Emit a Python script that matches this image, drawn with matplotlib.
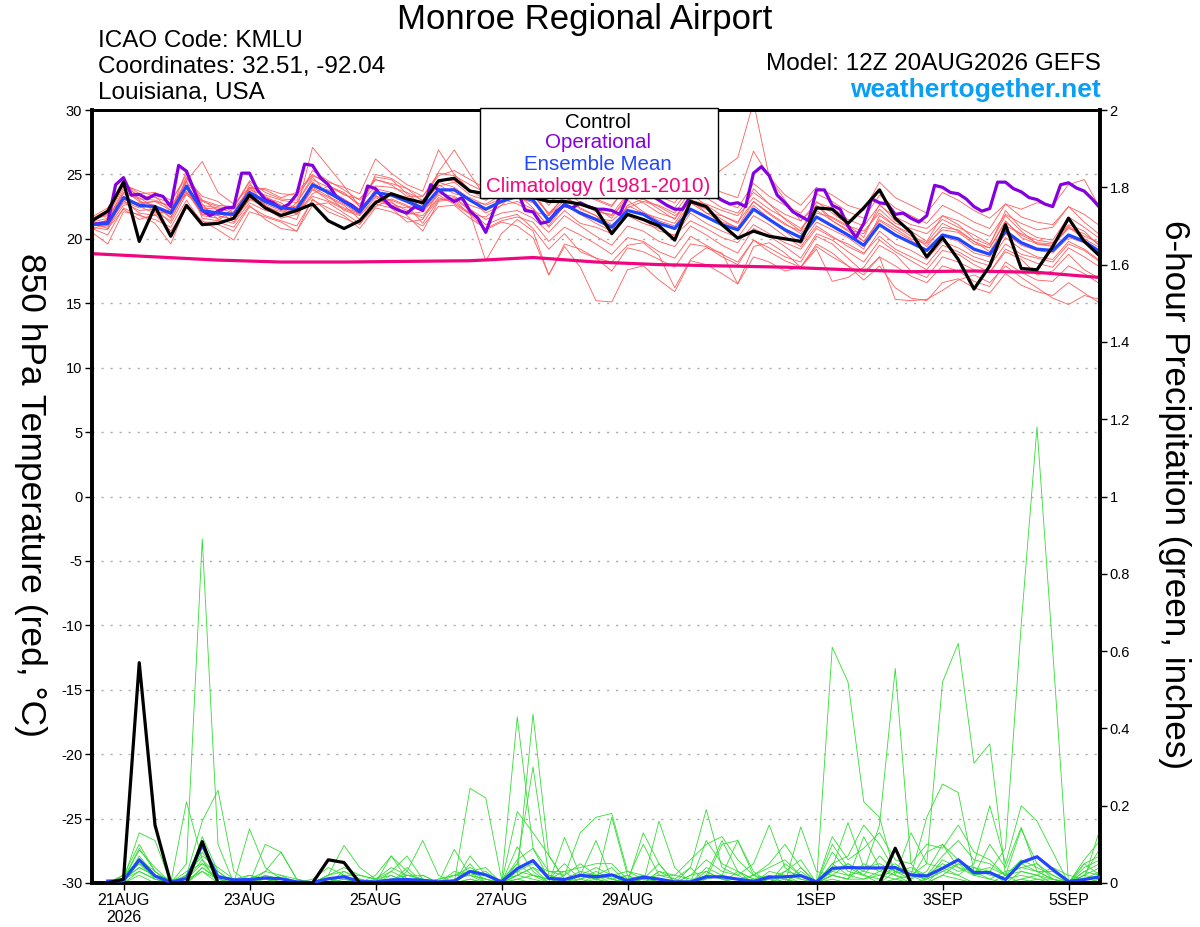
import numpy as np
import matplotlib
matplotlib.use("Agg")
import matplotlib.pyplot as plt
from matplotlib.patches import Rectangle

plt.rcParams['font.family'] = ['Liberation Sans', 'DejaVu Sans']
plt.rcParams['axes.unicode_minus'] = False

# === time axis: 6-hourly steps from 12Z 20AUG2026 (step 0) to 12Z 05SEP (step 64) ===
tick_steps = [2, 10, 18, 26, 34, 46, 54, 62]
tick_labels = ['21AUG\n2026', '23AUG', '25AUG', '27AUG', '29AUG', '1SEP', '3SEP', '5SEP']

# === 850 hPa temperature (deg C), 6-hourly, steps 0..64 ===
control_t = [21.4, 22.15, 24.4, 19.8, 22.5, 20.2, 22.6, 21.1, 21.2, 21.6, 23.4, 22.4, 21.8, 22.2, 22.7, 21.4,
             20.8, 21.4, 22.8, 23.5, 23.1, 22.8, 24.5, 24.7, 23.7, 23.5, 23.4, 23.6, 23.2, 22.9, 22.9, 22.7,
             22.3, 20.4, 21.9, 21.5, 21.0, 19.9, 22.9, 22.5, 21.1, 20.05, 20.6, 20.2, 20.0, 19.8, 22.4, 22.3,
             21.2, 22.4, 23.8, 21.6, 20.5, 18.6, 20.1, 18.4, 16.1, 17.9, 21.1, 17.7, 17.6, 19.4, 21.6, 19.8,
             18.65]
mean_t = [21.1, 21.2, 23.2, 22.6, 22.5, 22.0, 24.1, 22.2, 22.0, 21.9, 23.6, 22.9, 22.4, 22.3, 24.2, 23.6,
          22.9, 22.1, 23.6, 23.4, 22.9, 22.4, 23.8, 23.8, 23.0, 22.3, 22.9, 23.3, 23.0, 21.4, 22.7, 22.0,
          21.5, 20.9, 22.2, 21.9, 21.2, 20.8, 22.3, 21.7, 21.1, 20.7, 22.3, 21.5, 20.7, 20.1, 21.7, 21.0,
          20.3, 19.5, 21.1, 20.3, 19.7, 19.1, 20.3, 20.0, 19.2, 18.8, 20.6, 19.7, 19.2, 19.1, 20.3, 19.8,
          19.0]

# operational run is 3-hourly (129 values)
oper_t = [21.1, 21.2, 21.25, 24.2, 24.75, 23.4, 23.45, 23.1, 23.45, 23.3, 22.5, 25.7, 25.25, 23.7, 22.2, 21.8,
          22.15, 22.4, 22.45, 25.1, 25.1, 23.8, 23.05, 22.8, 22.35, 22.7, 23.45, 25.8, 25.7, 24.75, 24.2, 23.3,
          22.9, 22.6, 22.1, 24.1, 23.9, 23.1, 22.5, 22.2, 22.0, 22.5, 22.2, 24.2, 23.8, 23.3, 22.9, 23.2,
          22.15, 21.6, 20.5, 22.15, 23.6, 23.9, 23.8, 22.2, 22.1, 21.2, 21.35, 22.15, 22.6, 22.4, 22.8, 22.5,
          22.3, 22.3, 22.2, 21.9, 23.2, 23.7, 23.8, 23.4, 23.0, 22.6, 22.3, 22.3, 23.3, 23.7, 23.6, 23.4,
          23.0, 22.7, 22.8, 22.5, 25.1, 25.6, 24.9, 23.4, 22.8, 22.1, 21.75, 21.4, 23.8, 23.8, 22.6, 22.3,
          21.0, 20.1, 21.2, 23.1, 22.8, 22.7, 21.9, 22.0, 21.6, 21.3, 21.8, 24.15, 24.0, 23.6, 23.5, 23.1,
          22.5, 22.15, 22.35, 24.4, 24.4, 23.9, 23.65, 23.2, 23.05, 22.7, 22.5, 24.2, 24.35, 23.95, 23.7, 23.1,
          22.4]

# climatology, daily at 12Z
clim_t = [18.85, 18.6, 18.35, 18.2, 18.2, 18.25, 18.3, 18.55, 18.2, 18.0, 17.9, 17.8, 17.6, 17.45, 17.5,
          17.4, 17.0]

# ensemble members
mem01 = [21.5, 21.8, 24.0, 23.4, 23.2, 22.8, 25.0, 23.0, 22.6, 22.5, 24.5, 23.6, 23.1, 23.0, 25.3, 24.5,
         23.8, 23.0, 24.6, 24.3, 23.9, 23.3, 25.1, 24.9, 24.2, 23.6, 24.4, 25.0, 24.6, 23.2, 24.4, 23.6,
         23.1, 22.6, 24.1, 23.6, 23.0, 22.4, 24.0, 23.5, 22.9, 22.4, 24.3, 23.3, 22.6, 22.0, 23.5, 22.9,
         22.1, 21.6, 23.4, 22.4, 21.8, 21.2, 22.6, 22.0, 21.3, 20.8, 22.7, 21.7, 21.3, 21.1, 22.5, 21.9, 21.0]
mem02 = [20.8, 20.3, 22.4, 21.8, 21.5, 20.9, 23.0, 21.2, 21.1, 20.6, 22.5, 21.8, 21.4, 21.0, 23.0, 22.4,
         21.8, 20.8, 22.4, 22.1, 21.6, 21.0, 22.5, 22.6, 21.6, 20.8, 21.4, 21.7, 21.3, 19.8, 20.9, 20.3,
         19.6, 18.8, 20.1, 19.8, 19.0, 18.5, 20.2, 19.5, 18.8, 18.2, 19.9, 19.0, 18.3, 17.8, 19.4, 18.6,
         17.9, 17.2, 18.6, 17.9, 17.1, 16.6, 17.9, 17.5, 16.7, 16.3, 18.2, 17.4, 16.8, 16.7, 17.9, 17.3, 16.5]
mem03 = [21.0, 21.5, 23.8, 22.9, 22.6, 21.6, 24.8, 22.5, 21.8, 21.5, 24.2, 23.3, 22.6, 22.2, 27.1, 25.6,
         24.1, 22.5, 24.8, 24.6, 23.5, 22.6, 25.2, 26.9, 25.0, 23.2, 24.0, 24.6, 23.8, 21.8, 23.4, 22.4,
         21.8, 20.6, 22.6, 23.1, 22.3, 21.5, 23.5, 22.6, 21.8, 21.2, 23.9, 22.7, 21.5, 20.6, 22.9, 22.0,
         21.1, 20.1, 22.7, 21.4, 20.6, 19.8, 21.8, 21.1, 20.0, 19.5, 22.2, 20.8, 20.1, 19.9, 21.7, 20.9, 20.0]
mem04 = [21.3, 21.0, 22.9, 22.4, 22.6, 21.7, 23.6, 21.9, 21.8, 21.5, 23.2, 22.5, 22.1, 22.0, 23.8, 23.2,
         22.6, 21.5, 23.0, 22.8, 22.2, 21.6, 23.1, 23.0, 21.9, 20.7, 21.3, 21.0, 20.1, 17.2, 19.4, 17.8,
         15.2, 15.1, 17.6, 17.9, 16.8, 15.9, 18.3, 18.0, 17.3, 16.5, 18.6, 18.2, 17.5, 17.8, 19.6, 18.9,
         17.9, 16.8, 17.9, 16.2, 15.4, 15.2, 16.6, 16.9, 16.2, 15.8, 17.3, 16.4, 15.9, 15.6, 16.6, 15.8, 15.0]
mem05 = [21.6, 22.2, 24.6, 23.0, 22.1, 21.4, 23.9, 21.8, 21.6, 22.1, 24.0, 22.6, 21.9, 22.8, 24.8, 23.4,
         22.2, 21.8, 23.2, 22.6, 22.4, 23.0, 24.4, 24.0, 23.1, 22.0, 22.6, 23.9, 23.4, 22.0, 23.2, 22.6,
         22.2, 21.8, 23.0, 22.1, 21.4, 21.0, 22.8, 22.3, 21.5, 20.8, 22.6, 21.6, 20.6, 19.6, 21.3, 20.7,
         20.1, 19.2, 21.8, 21.0, 20.4, 19.4, 20.9, 20.7, 19.8, 19.0, 21.0, 20.4, 19.9, 19.7, 21.1, 20.6, 19.4]
mem06 = [20.5, 19.6, 22.1, 21.9, 21.2, 19.6, 22.6, 21.4, 20.7, 19.9, 22.1, 21.7, 21.3, 20.6, 22.6, 22.8,
         22.0, 21.2, 22.5, 23.1, 22.6, 21.2, 23.0, 23.2, 22.3, 21.5, 22.0, 22.2, 21.6, 20.5, 21.8, 21.0,
         20.2, 19.5, 21.0, 20.6, 19.8, 19.4, 21.0, 20.3, 19.5, 18.9, 20.8, 20.2, 19.4, 18.5, 20.4, 19.9,
         19.0, 18.2, 19.9, 19.0, 18.3, 17.6, 19.1, 18.8, 18.0, 17.4, 19.2, 18.6, 18.1, 17.8, 19.3, 18.6, 17.8]
mem07 = [21.2, 21.4, 23.5, 23.1, 23.0, 22.5, 24.4, 22.9, 22.5, 22.3, 23.8, 23.4, 23.0, 22.8, 24.6, 24.0,
         23.5, 22.7, 24.1, 24.0, 23.6, 23.0, 24.6, 24.5, 23.8, 23.0, 23.6, 24.2, 24.0, 22.6, 23.9, 23.5,
         23.0, 22.5, 24.2, 23.8, 23.3, 22.8, 24.6, 24.2, 23.6, 23.2, 26.8, 24.8, 23.4, 22.6, 24.0, 23.4,
         22.6, 22.2, 24.4, 23.2, 22.6, 22.0, 23.6, 23.0, 22.2, 21.6, 22.7, 22.3, 22.8, 22.6, 24.2, 24.6, 22.4]
mem08 = [21.0, 21.1, 22.8, 22.2, 22.3, 21.9, 23.7, 22.0, 21.9, 21.8, 23.3, 22.7, 22.2, 22.1, 23.9, 23.0,
         22.4, 22.0, 23.3, 23.0, 22.5, 22.2, 23.5, 23.3, 22.6, 22.2, 23.0, 23.2, 22.8, 21.6, 22.5, 22.1,
         21.6, 21.4, 22.4, 22.9, 22.6, 22.0, 23.7, 24.4, 25.4, 26.3, 30.6, 24.8, 23.0, 21.4, 22.6, 21.6,
         20.9, 19.8, 21.5, 20.8, 20.0, 19.6, 20.7, 20.5, 19.6, 19.3, 21.3, 20.3, 19.7, 19.6, 20.8, 20.4, 19.5]
mem09 = [21.4, 22.0, 23.0, 22.0, 21.8, 22.3, 24.5, 21.6, 21.4, 22.4, 24.4, 22.3, 21.7, 22.6, 24.0, 23.3,
         22.7, 21.9, 23.9, 23.6, 22.9, 22.8, 24.1, 24.4, 23.4, 23.0, 23.8, 23.5, 22.4, 20.9, 22.2, 21.2,
         20.9, 20.4, 21.8, 21.2, 20.8, 20.2, 22.0, 21.2, 20.6, 20.1, 21.8, 21.1, 20.2, 19.4, 21.0, 20.2,
         19.4, 18.8, 20.6, 19.6, 19.1, 18.4, 19.8, 19.3, 18.6, 18.2, 20.1, 19.2, 18.6, 18.4, 19.8, 19.2, 18.3]
mem10 = [20.9, 20.7, 23.3, 22.7, 22.9, 22.2, 24.0, 22.4, 22.3, 21.6, 23.0, 23.2, 22.8, 21.9, 23.5, 24.1,
         23.6, 22.5, 23.4, 22.4, 22.0, 21.8, 23.2, 22.8, 22.0, 18.3, 20.4, 21.5, 20.6, 17.2, 19.6, 19.2,
         18.5, 17.5, 19.3, 19.0, 18.4, 17.8, 19.6, 19.4, 18.6, 18.0, 19.9, 19.3, 18.6, 18.2, 20.2, 19.6,
         18.5, 17.4, 18.6, 15.3, 15.2, 15.3, 16.0, 16.8, 17.2, 16.6, 17.9, 17.0, 16.2, 15.4, 14.9, 15.6, 15.3]
mem11 = [21.7, 22.4, 24.3, 23.5, 23.6, 23.0, 24.7, 23.3, 22.9, 22.0, 23.9, 23.9, 23.5, 23.4, 24.9, 24.4,
         24.0, 23.5, 26.2, 25.1, 24.2, 23.7, 26.9, 25.0, 23.8, 23.5, 24.0, 24.5, 25.6, 24.1, 24.9, 24.6,
         24.0, 24.4, 26.2, 25.0, 24.2, 23.6, 24.4, 23.2, 22.4, 22.0, 23.6, 22.7, 21.9, 21.4, 22.8, 22.4,
         21.5, 21.0, 22.6, 21.7, 21.1, 20.8, 21.8, 21.4, 20.7, 20.2, 21.9, 21.2, 20.7, 20.9, 22.5, 21.3, 20.3]
mem12 = [21.1, 20.9, 22.6, 22.8, 22.9, 22.6, 23.4, 22.6, 22.4, 22.0, 23.5, 22.8, 22.6, 22.5, 24.0, 23.8,
         23.1, 22.3, 23.7, 22.9, 21.8, 20.6, 22.9, 23.1, 22.2, 21.1, 21.6, 21.9, 20.8, 19.2, 20.4, 19.0,
         18.5, 18.2, 19.5, 19.7, 18.7, 16.2, 18.4, 19.3, 18.9, 16.5, 19.4, 19.7, 18.9, 17.8, 19.2, 16.7,
         17.0, 17.8, 19.5, 18.8, 17.5, 17.0, 18.6, 18.2, 17.6, 17.4, 19.0, 18.4, 17.2, 17.5, 18.8, 17.6, 16.9]
mem13 = [21.3, 21.6, 23.6, 23.2, 22.4, 21.2, 23.5, 23.0, 22.2, 21.3, 23.1, 22.4, 21.6, 21.9, 23.3, 22.9,
         22.3, 21.9, 22.9, 22.6, 21.9, 22.1, 23.4, 22.7, 21.9, 21.7, 22.6, 22.9, 22.3, 21.0, 22.6, 21.9,
         21.2, 20.6, 22.6, 22.0, 21.6, 21.2, 23.1, 22.0, 21.3, 20.9, 22.9, 21.9, 21.1, 20.6, 22.6, 21.4,
         20.7, 20.4, 22.3, 21.2, 20.8, 20.4, 21.5, 20.9, 20.3, 19.6, 21.8, 20.6, 19.6, 19.4, 20.9, 20.0, 19.3]
mem14 = [20.7, 21.3, 23.1, 22.5, 22.0, 22.1, 25.3, 22.7, 21.5, 21.2, 22.8, 22.2, 21.9, 21.5, 24.4, 23.6,
         22.8, 22.2, 25.0, 24.7, 23.9, 22.9, 24.2, 23.5, 23.2, 22.6, 23.1, 22.7, 22.1, 21.8, 23.0, 22.7,
         22.4, 21.6, 23.4, 22.8, 22.0, 21.6, 23.0, 22.7, 22.2, 21.8, 23.2, 22.3, 21.6, 20.8, 22.2, 21.4,
         20.6, 19.8, 21.4, 20.6, 19.9, 19.0, 20.2, 19.8, 18.9, 18.6, 20.4, 19.5, 19.1, 18.9, 20.1, 19.7, 18.8]
mem15 = [21.2, 20.8, 22.3, 21.5, 21.9, 20.6, 22.4, 21.3, 21.3, 20.9, 22.6, 21.5, 20.8, 20.6, 23.1, 22.1,
         21.6, 21.1, 22.7, 22.4, 21.3, 21.5, 23.7, 23.9, 22.9, 22.7, 23.4, 23.7, 23.4, 21.9, 23.3, 22.3,
         21.8, 21.1, 22.0, 21.5, 20.6, 20.3, 21.4, 20.8, 20.1, 19.7, 21.1, 20.4, 19.7, 19.2, 20.8, 20.1,
         19.6, 18.9, 20.2, 19.2, 18.6, 18.0, 19.5, 19.0, 18.3, 17.9, 19.6, 18.8, 18.5, 18.2, 19.6, 19.1, 18.2]
mem16 = [21.5, 21.9, 24.2, 23.7, 23.3, 22.2, 24.5, 26.0, 23.6, 22.7, 24.0, 23.8, 23.2, 23.6, 25.0, 24.2,
         23.4, 23.1, 24.6, 24.2, 23.3, 23.3, 24.9, 25.3, 24.6, 23.9, 25.2, 26.6, 25.2, 22.8, 23.8, 22.8,
         22.1, 21.9, 23.5, 23.1, 22.5, 21.8, 22.8, 22.0, 21.8, 21.3, 22.9, 22.0, 21.2, 20.4, 22.0, 21.7,
         21.0, 20.6, 22.0, 21.0, 20.2, 19.7, 21.2, 20.6, 19.8, 19.3, 21.4, 20.1, 19.6, 19.5, 21.0, 20.2, 19.7]

# === 6-hour precipitation (inches), steps 1..64 ===
control_p = [0, 0.01, 0.57, 0.15, 0, 0, 0.107, 0,
             0, 0, 0, 0, 0, 0, 0.06, 0.053,
             0, 0, 0, 0, 0, 0, 0, 0,
             0, 0, 0, 0, 0, 0, 0, 0,
             0, 0, 0, 0, 0, 0, 0, 0,
             0, 0, 0, 0, 0, 0, 0, 0,
             0, 0, 0.09, 0, 0, 0, 0, 0,
             0, 0, 0, 0, 0, 0, 0, 0]
mean_p = [0.005, 0.006, 0.06, 0.018, 0.002, 0.012, 0.098, 0.016,
          0.008, 0.009, 0.013, 0.011, 0.003, 0.001, 0.011, 0.016,
          0.004, 0.003, 0.008, 0.009, 0.007, 0.003, 0.005, 0.03,
          0.021, 0.003, 0.037, 0.058, 0.012, 0.009, 0.02, 0.016,
          0.021, 0.006, 0.015, 0.01, 0.003, 0.003, 0.016, 0.016,
          0.01, 0.004, 0.015, 0.016, 0.019, 0.003, 0.038, 0.04,
          0.039, 0.039, 0.04, 0.021, 0.018, 0.038, 0.06, 0.027,
          0.027, 0.009, 0.053, 0.068, 0.035, 0.004, 0.009, 0.016]

pcp01 = [0, 0.01, 0.06, 0.02, 0, 0.05, 0.89, 0.10, 0, 0, 0.02, 0, 0, 0, 0, 0.01,
         0, 0, 0.02, 0, 0, 0, 0, 0.07, 0.02, 0, 0.05, 0.02, 0, 0, 0.01, 0.02,
         0.01, 0, 0, 0, 0, 0, 0.03, 0.01, 0, 0, 0.02, 0.01, 0, 0, 0.05, 0.02,
         0.01, 0.03, 0.05, 0.02, 0, 0.04, 0.06, 0.02, 0.01, 0, 0.03, 0.02, 0.01, 0, 0.02, 0.09]
pcp02 = [0, 0.01, 0.13, 0.11, 0, 0.21, 0.06, 0, 0, 0.02, 0.01, 0, 0, 0, 0.02, 0.03,
         0.01, 0, 0, 0.04, 0, 0, 0.02, 0.03, 0, 0, 0.43, 0.09, 0.01, 0.05, 0.01, 0,
         0.17, 0.02, 0, 0.01, 0, 0, 0, 0, 0.03, 0, 0, 0.01, 0, 0, 0.61, 0.52,
         0.21, 0.17, 0.02, 0, 0.01, 0.03, 0.02, 0, 0, 0.02, 0.14, 0.05, 0.01, 0, 0.01, 0.03]
pcp03 = [0, 0.02, 0.10, 0.03, 0, 0.02, 0.16, 0.24, 0.03, 0, 0, 0.01, 0, 0, 0, 0,
         0, 0.02, 0.07, 0.01, 0, 0, 0, 0.01, 0, 0, 0.02, 0.437, 0.07, 0.01, 0, 0.02,
         0.04, 0, 0.01, 0.05, 0, 0, 0.02, 0.11, 0.03, 0.01, 0, 0, 0.03, 0, 0.02, 0.05,
         0.03, 0.15, 0.555, 0.05, 0, 0.02, 0.05, 0.04, 0.03, 0, 0.01, 0.02, 0, 0, 0.05, 0.02]
pcp04 = [0, 0.01, 0.085, 0.04, 0, 0, 0.12, 0.03, 0, 0.14, 0.04, 0.01, 0, 0, 0.01, 0,
         0, 0, 0, 0.02, 0.01, 0, 0.087, 0.02, 0.01, 0, 0.094, 0.03, 0, 0.118, 0.02, 0.01,
         0, 0, 0.02, 0, 0, 0.04, 0, 0, 0, 0.01, 0, 0.05, 0.02, 0, 0.02, 0.01,
         0.05, 0.03, 0.02, 0.13, 0.05, 0.52, 0.62, 0.31, 0.36, 0.02, 0, 0.01, 0, 0, 0, 0.01]
pcp05 = [0, 0, 0.07, 0.02, 0.01, 0, 0.04, 0.01, 0, 0, 0.10, 0.08, 0.01, 0, 0.02, 0.097,
         0.04, 0.01, 0, 0.03, 0, 0, 0, 0, 0, 0.01, 0.05, 0.30, 0.02, 0, 0.02, 0.04,
         0.02, 0, 0, 0.03, 0.01, 0.04, 0.19, 0.04, 0.02, 0, 0, 0.02, 0, 0, 0.03, 0.05,
         0.02, 0, 0.03, 0.02, 0.01, 0.06, 0.04, 0.02, 0.03, 0.09, 0.67, 1.18, 0.60, 0, 0.03, 0.05]
pcp06 = [0, 0.01, 0.05, 0.01, 0, 0.01, 0.08, 0.02, 0.01, 0, 0, 0.02, 0.01, 0, 0, 0,
         0.01, 0, 0, 0, 0.02, 0, 0, 0.245, 0.22, 0.01, 0.02, 0.04, 0, 0.02, 0.13, 0.17,
         0.18, 0.03, 0.01, 0, 0, 0, 0.04, 0.02, 0.11, 0.03, 0, 0, 0.04, 0, 0.04, 0.156,
         0.04, 0.05, 0.03, 0.02, 0.17, 0.256, 0.234, 0.03, 0.04, 0.02, 0.03, 0.02, 0.04, 0.02, 0.01, 0.14]
pcp07 = [0, 0.02, 0.06, 0.03, 0, 0.03, 0.05, 0.03, 0, 0.01, 0.03, 0.08, 0.01, 0, 0, 0.02,
         0.02, 0.01, 0.03, 0.07, 0.01, 0, 0.03, 0.02, 0.03, 0, 0.185, 0.13, 0.072, 0.01, 0.02, 0.11,
         0.01, 0, 0.13, 0.05, 0, 0.02, 0.06, 0.03, 0.02, 0.05, 0.15, 0.04, 0.01, 0, 0.08, 0.03,
         0.02, 0.01, 0.04, 0.02, 0.05, 0.04, 0.02, 0.05, 0.20, 0.05, 0.20, 0.16, 0.08, 0, 0.02, 0.04]
pcp08 = [0, 0, 0.03, 0.01, 0, 0, 0.04, 0.01, 0, 0.01, 0, 0, 0, 0.01, 0.04, 0.02,
         0, 0, 0.07, 0.03, 0.11, 0.02, 0, 0.03, 0.01, 0, 0.02, 0.01, 0, 0.01, 0.03, 0.02,
         0.01, 0.02, 0, 0.16, 0.04, 0, 0.11, 0.05, 0.03, 0.01, 0.02, 0, 0.145, 0.03, 0.02, 0.01,
         0.12, 0.04, 0.02, 0.01, 0.03, 0.10, 0.06, 0.02, 0.10, 0.04, 0.144, 0.03, 0.01, 0, 0.03, 0.02]
pcp09 = [0, 0.01, 0.04, 0.02, 0.01, 0.01, 0.06, 0.02, 0.01, 0, 0, 0, 0, 0, 0.01, 0,
         0, 0, 0.01, 0.02, 0.02, 0, 0, 0.05, 0, 0, 0.03, 0.02, 0.01, 0.03, 0, 0.01,
         0.02, 0.03, 0.02, 0.01, 0, 0, 0.02, 0.01, 0, 0.02, 0.04, 0.06, 0.02, 0, 0.10, 0.04,
         0.02, 0.07, 0.03, 0.01, 0.08, 0.10, 0.04, 0.03, 0.01, 0.03, 0.04, 0.05, 0.02, 0, 0.04, 0.06]
pcp10 = [0, 0.01, 0.03, 0.01, 0, 0.02, 0.07, 0.04, 0.01, 0.02, 0.01, 0, 0, 0, 0, 0.03,
         0.01, 0, 0, 0.01, 0, 0.01, 0.02, 0.04, 0.02, 0, 0.06, 0.09, 0.03, 0.02, 0.05, 0.02,
         0, 0.02, 0, 0.03, 0.02, 0.01, 0.01, 0.10, 0.11, 0.02, 0, 0.03, 0.06, 0, 0.05, 0.07,
         0.15, 0.10, 0.03, 0.04, 0.02, 0.07, 0.11, 0.06, 0.05, 0.02, 0.06, 0.04, 0.02, 0, 0.06, 0.11]
pcp11 = [0, 0.02, 0.05, 0.02, 0, 0.01, 0.03, 0.01, 0, 0, 0.02, 0.01, 0, 0, 0, 0.01,
         0, 0.01, 0.02, 0, 0, 0.01, 0.02, 0.02, 0.01, 0, 0.02, 0.04, 0.02, 0.01, 0.01, 0.03,
         0.01, 0, 0.01, 0.02, 0.01, 0, 0.01, 0.02, 0.01, 0, 0.03, 0.02, 0.01, 0, 0.03, 0.02,
         0.03, 0.02, 0.01, 0.02, 0.01, 0.03, 0.05, 0.02, 0.03, 0.01, 0.05, 0.03, 0.01, 0, 0.01, 0.02]
pcp12 = [0, 0, 0.02, 0, 0, 0, 0.03, 0, 0, 0.01, 0, 0, 0, 0, 0.01, 0.02,
         0, 0, 0.03, 0.01, 0, 0, 0.01, 0.02, 0, 0, 0.01, 0.02, 0.01, 0, 0.02, 0.01,
         0, 0.01, 0.02, 0, 0, 0.02, 0.03, 0.01, 0.01, 0.02, 0.01, 0.03, 0.02, 0, 0.02, 0.01,
         0.01, 0.02, 0.04, 0.03, 0.02, 0.05, 0.03, 0.04, 0.02, 0.01, 0.02, 0.01, 0.01, 0, 0.02, 0.01]
pcp13 = [0, 0.01, 0.09, 0.03, 0, 0.02, 0.10, 0.02, 0, 0, 0.03, 0.02, 0, 0, 0.02, 0.04,
         0.02, 0.01, 0.04, 0.02, 0.01, 0, 0, 0.03, 0.04, 0, 0.03, 0.05, 0.03, 0.03, 0.04, 0.05,
         0.05, 0.01, 0.10, 0.02, 0.02, 0.06, 0.10, 0.12, 0.06, 0.02, 0.05, 0.10, 0.04, 0, 0.12, 0.06,
         0.09, 0.13, 0.06, 0.05, 0.10, 0.09, 0.15, 0.08, 0.06, 0.02, 0.04, 0.03, 0.03, 0, 0.05, 0.07]
pcp14 = [0, 0.01, 0.04, 0.02, 0, 0.01, 0.05, 0.01, 0, 0, 0.01, 0, 0, 0, 0, 0,
         0, 0, 0, 0, 0, 0, 0, 0.01, 0, 0, 0.01, 0, 0, 0, 0, 0,
         0, 0, 0, 0.01, 0, 0, 0, 0, 0, 0, 0.01, 0, 0, 0, 0.01, 0,
         0, 0, 0.01, 0, 0, 0.02, 0.01, 0, 0, 0, 0.01, 0, 0, 0, 0, 0.01]

temp_members = [mem01, mem02, mem03, mem04, mem05, mem06, mem07, mem08,
                mem09, mem10, mem11, mem12, mem13, mem14, mem15, mem16]
pcp_members = [pcp01, pcp02, pcp03, pcp04, pcp05, pcp06, pcp07,
               pcp08, pcp09, pcp10, pcp11, pcp12, pcp13, pcp14]

steps = np.arange(len(control_t))
pcp_steps = np.arange(1, len(control_p) + 1)
oper_steps = np.arange(len(oper_t)) / 2.0
clim_steps = np.arange(len(clim_t)) * 4

# colours
RED = '#ff5c5c'
GREEN = '#33dd33'
PURPLE = '#8400e0'
BLUE = '#2246ff'
PINK = '#f0067f'

W, H = 1200, 927
fig = plt.figure(figsize=(W / 100, H / 100), dpi=100)
ax = fig.add_axes([92 / W, 1 - 883 / H, 1008 / W, 773 / H])
ax2 = ax.twinx()


def fx(px):
    return px / W


def fy(py):
    return 1 - py / H


# --- temperature panel (left axis) ---
for m in temp_members:
    ax.plot(steps, m, color=RED, lw=0.6, zorder=2)
ax.plot(clim_steps, clim_t, color=PINK, lw=2.3, zorder=3)
ax.plot(oper_steps, oper_t, color=PURPLE, lw=2.3, zorder=4)
ax.plot(steps, mean_t, color=BLUE, lw=2.3, zorder=5)
ax.plot(steps, control_t, color='black', lw=2.3, zorder=6)

ax.set_xlim(0, 64)
ax.set_ylim(-30, 30)
ax.set_yticks(np.arange(-30, 31, 5))
ax.set_yticklabels([str(v) for v in range(-30, 31, 5)])
for v in range(-25, 30, 5):
    ax.axhline(v, color='#aaaaaa', lw=1.0, ls=(0, (1.5, 5)), zorder=1)
ax.set_xticks(tick_steps)
ax.set_xticklabels(tick_labels)
ax.tick_params(axis='y', direction='out', length=5, width=1, labelsize=10.5, pad=2)
ax.tick_params(axis='x', direction='out', length=5, width=1, labelsize=11.5, pad=2)

# --- precipitation panel (right axis) ---
for m in pcp_members:
    ax2.plot(pcp_steps, m, color=GREEN, lw=0.6, zorder=2)
ax2.plot(pcp_steps, mean_p, color=BLUE, lw=2.3, zorder=5)
ax2.plot(pcp_steps, control_p, color='black', lw=2.3, zorder=6)
ax2.set_ylim(0, 2)
ax2.set_xlim(0, 64)
ax2.set_yticks(np.arange(0, 2.01, 0.2))
ax2.set_yticklabels(['0', '0.2', '0.4', '0.6', '0.8', '1', '1.2', '1.4', '1.6', '1.8', '2'])
ax2.tick_params(axis='y', direction='out', length=5, width=1, labelsize=10.5, pad=2)

for a in (ax, ax2):
    for side in ('left', 'right', 'bottom'):
        a.spines[side].set_linewidth(2.6)
    a.spines['top'].set_linewidth(2.0)

# --- axis titles ---
fig.text(fx(30), fy(495), '850 hPa Temperature (red, \u00b0C)', rotation=270,
         ha='center', va='center', fontsize=25.5)
fig.text(fx(1175), fy(495), '6-hour Precipitation (green, inches)', rotation=270,
         ha='center', va='center', fontsize=25.3)

# --- header texts ---
fig.text(fx(585), fy(20), 'Monroe Regional Airport', ha='center', va='center', fontsize=25)
fig.text(fx(98), fy(41), 'ICAO Code: KMLU', ha='left', va='center', fontsize=17.5)
fig.text(fx(98), fy(67), 'Coordinates: 32.51, -92.04', ha='left', va='center', fontsize=17.5)
fig.text(fx(98), fy(93), 'Louisiana, USA', ha='left', va='center', fontsize=17.5)
fig.text(fx(1101), fy(64), 'Model: 12Z 20AUG2026 GEFS', ha='right', va='center', fontsize=17.5)
fig.text(fx(1101), fy(90), 'weathertogether.net', ha='right', va='center', fontsize=19,
         fontweight='bold', color='#0a9ff5')

# --- legend box ---
fig.patches.append(Rectangle((fx(480), fy(198)), (718 - 480) / W, (198 - 108) / H,
                             transform=fig.transFigure, facecolor='white',
                             edgecolor='black', lw=1.0, zorder=5))
leg_items = [('Control', 'black', 122), ('Operational', PURPLE, 143),
             ('Ensemble Mean', BLUE, 164), ('Climatology (1981-2010)', PINK, 186)]
for label, col, py in leg_items:
    fig.text(fx(598), fy(py), label, ha='center', va='center', fontsize=14.8,
             color=col, zorder=6)

fig.savefig('out.png', dpi=100)
